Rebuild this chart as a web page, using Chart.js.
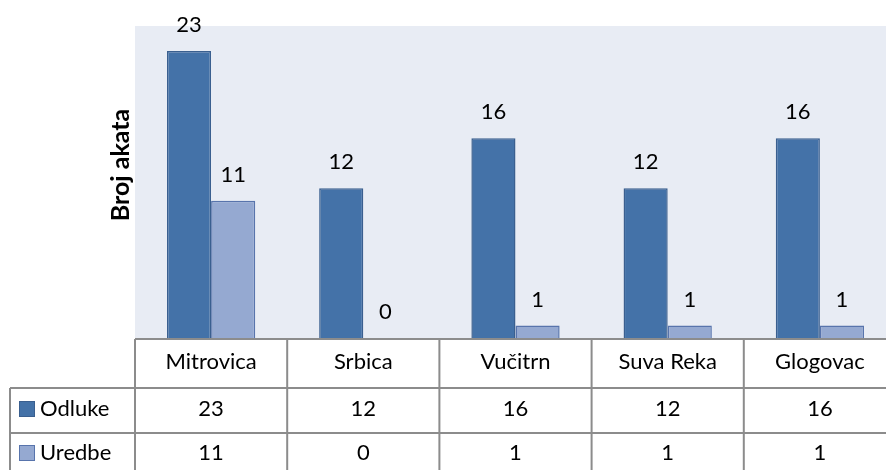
<!DOCTYPE html>
<html>
<head>
<meta charset="utf-8">
<script src="https://cdn.jsdelivr.net/npm/chart.js@4"></script>
<style>
  html, body { margin: 0; padding: 0; background: #fff; overflow: hidden; }
  #wrap { width: 886px; height: 470px; overflow: hidden; }
</style>
</head>
<body>
<div id="wrap"><canvas id="chart" width="900" height="470"></canvas></div>
<script>
const categories = ["Mitrovica", "Srbica", "Vučitrn", "Suva Reka", "Glogovac"];
const odluke = [23, 12, 16, 12, 16];
const uredbe = [11, 0, 1, 1, 1];
const seriesNames = ["Odluke", "Uredbe"];
const yTitle = "Broj akata";

const FONT = "Lato, 'Open Sans', sans-serif";
const fills = ["#4472a8", "#95a9d1"];
const borders = ["#3a5f8f", "#5874ac"];

// value labels above each bar
const valueLabels = {
  id: "valueLabels",
  afterDatasetsDraw(chart) {
    const ctx = chart.ctx;
    ctx.save();
    ctx.font = "22px " + FONT;
    ctx.fillStyle = "#000";
    ctx.textAlign = "center";
    ctx.textBaseline = "middle";
    chart.data.datasets.forEach((ds, i) => {
      chart.getDatasetMeta(i).data.forEach((bar, j) => {
        ctx.fillText(String(ds.data[j]), bar.x, bar.y - 26);
      });
    });
    ctx.restore();
  }
};

// data table under the plot + y title
const dataTable = {
  id: "dataTable",
  afterDraw(chart) {
    const ctx = chart.ctx;
    const area = chart.chartArea;
    const x = chart.scales.x;
    const step = (area.right - area.left) / categories.length;
    const rows = [area.bottom + 1, 388, 433, 472];
    const leftCol = 10;

    ctx.save();
    ctx.strokeStyle = "#8c8c8c";
    ctx.lineWidth = 2;
    ctx.beginPath();
    // horizontal lines
    ctx.moveTo(area.left, rows[0]); ctx.lineTo(area.right, rows[0]);
    ctx.moveTo(leftCol, rows[1]); ctx.lineTo(area.right, rows[1]);
    ctx.moveTo(leftCol, rows[2]); ctx.lineTo(area.right, rows[2]);
    // vertical lines
    ctx.moveTo(leftCol, rows[1]); ctx.lineTo(leftCol, rows[3]);
    for (let i = 0; i <= categories.length; i++) {
      const lx = area.left + i * step;
      ctx.moveTo(lx, rows[0]); ctx.lineTo(lx, rows[3]);
    }
    ctx.stroke();

    ctx.font = "22px " + FONT;
    ctx.fillStyle = "#000";
    ctx.textBaseline = "middle";
    ctx.textAlign = "center";
    const all = [odluke, uredbe];
    categories.forEach((c, i) => {
      const cx = x.getPixelForValue(i);
      ctx.fillText(c, cx, 362);
      ctx.fillText(String(all[0][i]), cx, 409);
      ctx.fillText(String(all[1][i]), cx, 453);
    });

    // legend keys in the first column
    const keyY = [409, 453];
    seriesNames.forEach((name, i) => {
      ctx.fillStyle = fills[i];
      ctx.fillRect(19, keyY[i] - 8, 16, 16);
      ctx.strokeStyle = borders[i];
      ctx.lineWidth = 1;
      ctx.strokeRect(19.5, keyY[i] - 7.5, 15, 15);
      ctx.fillStyle = "#000";
      ctx.textAlign = "left";
      ctx.fillText(name, 40, keyY[i]);
    });

    // y axis title
    ctx.translate(121, 165);
    ctx.rotate(-Math.PI / 2);
    ctx.font = "bold 25px " + FONT;
    ctx.textAlign = "center";
    ctx.fillText(yTitle, 0, 0);
    ctx.restore();
  }
};

const plotBg = {
  id: "plotBg",
  beforeDraw(chart) {
    const a = chart.chartArea;
    chart.ctx.save();
    chart.ctx.fillStyle = "#e8ecf4";
    chart.ctx.fillRect(a.left, a.top, a.right - a.left, a.bottom - a.top);
    chart.ctx.restore();
  }
};

new Chart(document.getElementById("chart"), {
  type: "bar",
  data: {
    labels: categories,
    datasets: [
      { label: seriesNames[0], data: odluke, backgroundColor: fills[0], borderColor: borders[0], borderWidth: 1.5 },
      { label: seriesNames[1], data: uredbe, backgroundColor: fills[1], borderColor: borders[1], borderWidth: 1.5 }
    ]
  },
  options: {
    responsive: false,
    animation: false,
    layout: { padding: { left: 135, right: 4, top: 26, bottom: 132 } },
    datasets: { bar: { categoryPercentage: 0.58, barPercentage: 1.0 } },
    scales: {
      x: { display: false },
      y: { display: false, min: 0, max: 25 }
    },
    plugins: { legend: { display: false }, tooltip: { enabled: false } }
  },
  plugins: [plotBg, valueLabels, dataTable]
});
</script>
</body>
</html>
